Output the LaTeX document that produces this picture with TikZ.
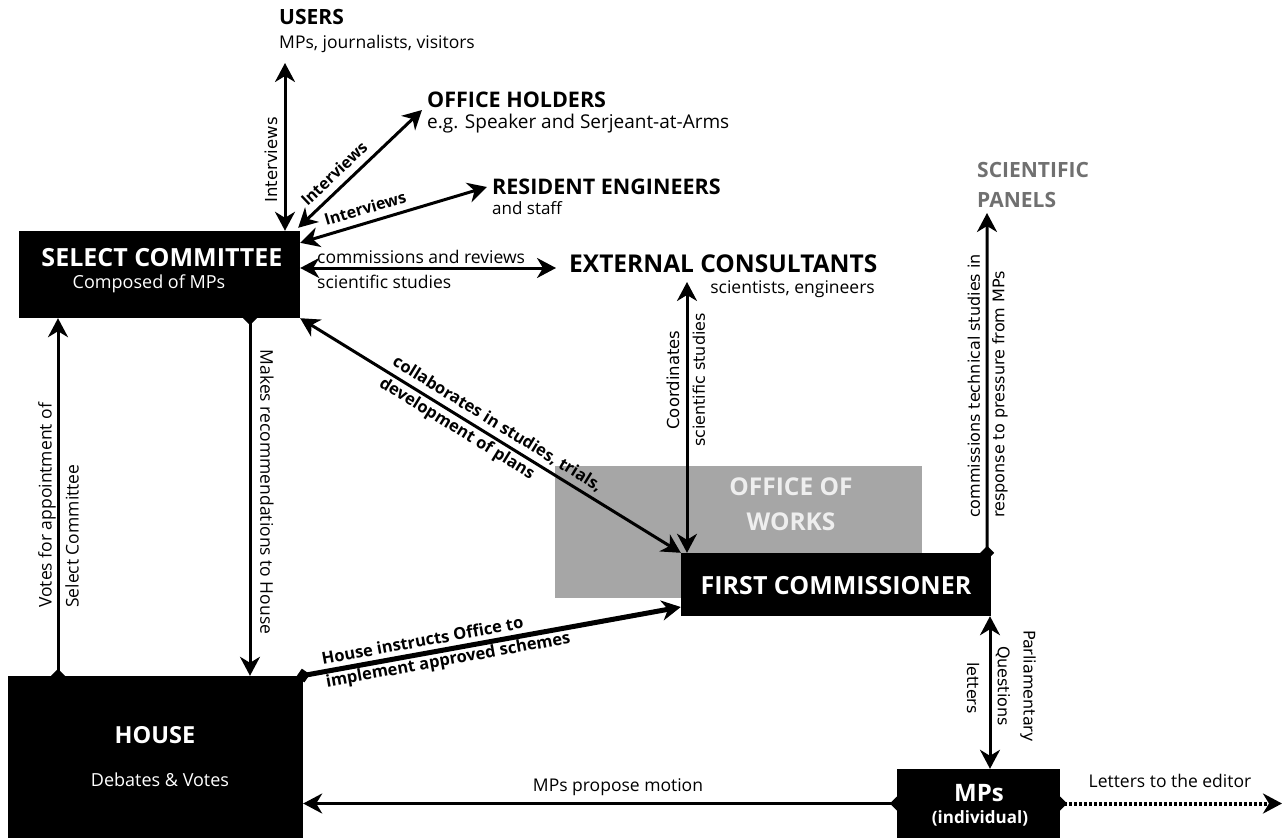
\documentclass[tikz,border=0pt]{standalone}
\usepackage{fontspec}
\setmainfont{Open Sans}
\newfontfamily\dejavu{DejaVu Sans}
\usetikzlibrary{arrows.meta,calc}
\newcommand{\myfs}[1]{\fontsize{#1}{\fpeval{1.25*#1}}\selectfont}
\definecolor{owgray}{HTML}{A6A6A6}
\definecolor{owtext}{HTML}{EEEEEE}
\definecolor{sptext}{HTML}{707070}
\begin{document}
\begin{tikzpicture}[x=1pt,y=-1pt,
  box/.style={fill=black, draw=none, inner sep=0pt},
  ttl/.style={inner sep=0pt, font=\bfseries\myfs{#1}},
  reg/.style={inner sep=0pt, font=\myfs{#1}},
  vdj/.style={inner sep=0pt, font=\dejavu\myfs{#1}},
  conn/.style={line width=3pt},
  both/.style={conn, {Stealth[length=19pt,width=20pt,inset=6pt]}-{Stealth[length=19pt,width=20pt,inset=6pt]}},
  one/.style={conn, {Turned Square[length=14pt,width=14pt]}-{Stealth[length=19pt,width=20pt,inset=6pt]}},
]
\useasboundingbox (0,0) rectangle (1283,838);

% boxes
\node[fill=owgray, inner sep=0pt, minimum width=367pt, minimum height=132pt] (ow) at (738.5,532) {};
\node[box, minimum width=281pt, minimum height=87pt] (sc) at (159.5,274.5) {};
\node[box, minimum width=295pt, minimum height=162pt] (house) at (155.5,757) {};
\node[box, minimum width=310pt, minimum height=63pt] (fc) at (836,584.5) {};
\node[box, minimum width=163pt, minimum height=69pt] (mps) at (978.5,803.5) {};

% box texts
\node[ttl=25, white] (sct) at (162,258) {SELECT COMMITTEE};
\node[reg=18, white] (scs) at (149,284) {Composed of MPs};
\node[ttl=23.5, white] (ht) at (155,735) {HOUSE};
\node[reg=18, white] (hs) at (160,780) {Debates \& Votes};
\node[ttl=25, white] (fct) at (836,586) {FIRST COMMISSIONER};
\node[ttl=24.5, owtext] (owt1) at (791,487) {OFFICE OF};
\node[ttl=24.5, owtext] (owt2) at (791,522) {WORKS};
\node[ttl=24, white] (mpt) at (979,793) {MPs};
\node[ttl=17, white] (mps2) at (980,818) {(individual)};

% outer titles
\node[ttl=21, anchor=west] (users) at (279,17) {USERS};
\node[reg=17.5, anchor=west] (usub) at (279,44) {MPs, journalists, visitors};
\node[ttl=21.5, anchor=west] (oh) at (427,100) {OFFICE HOLDERS};
\node[reg=19, anchor=west] (ohs) at (427,124) {e.g. Speaker and Serjeant-at-Arms};
\node[ttl=21.5, anchor=west] (re) at (492,187) {RESIDENT ENGINEERS};
\node[reg=17, anchor=west] (res) at (492,208) {and staff};
\node[ttl=24.5, anchor=west] (ec) at (569,264) {EXTERNAL CONSULTANTS};
\node[reg=17.5, anchor=east] (ecs) at (875,289) {scientists, engineers};
\node[ttl=21, sptext, anchor=west] (sp1) at (977,170) {SCIENTIFIC};
\node[ttl=21, sptext, anchor=west] (sp2) at (977,200) {PANELS};

% coordinates for free ends and line positions
\coordinate (uend) at (285,63);
\coordinate (ohend) at (422,110);
\coordinate (reend) at (487,187);
\coordinate (ecend) at (556,268);
\coordinate (coend) at (687,282);
\coordinate (spend) at (987,213);
\coordinate (edend) at (1282,803.5);
\coordinate (vx) at (58,0);
\coordinate (mx) at (250,0);
\coordinate (px) at (990,0);

% connectors
\draw[both] (sc.north -| uend) -- (uend);
\node[vdj=16.5, rotate=90] (lint1) at (271,160) {Interviews};

\draw[both] ([xshift=-2pt,yshift=3pt]sc.north east) -- (ohend)
  node[pos=0.37, sloped, above=7pt, inner sep=0pt, font=\bfseries\myfs{16}] (lint2) {Interviews};

\draw[both] ([yshift=-12pt]sc.north east) -- (reend)
  node[pos=0.37, sloped, above=7pt, inner sep=0pt, font=\bfseries\myfs{16}] (lint3) {Interviews};

\draw[both] ([yshift=6.5pt]sc.east) -- (ecend);
\node[reg=17.5, anchor=west] (lcr1) at (317,257) {commissions and reviews};
\node[reg=17.5, anchor=west] (lcr2) at (317,282) {scientific studies};

\draw[both] (coend) -- (coend |- fc.north);
\node[vdj=16.5, rotate=90] (lco1) at (673,380) {Coordinates};
\node[vdj=16, rotate=90] (lco2) at (699,380) {scientific studies};

\draw[one] ([xshift=-4pt,yshift=-7pt]fc.north east) -- (spend);
\node[vdj=16, rotate=90, anchor=west] (lsp1) at (974,518) {commissions technical studies in};
\node[vdj=16, rotate=90, anchor=west] (lsp2) at (1000,518) {response to pressure from MPs};

\draw[both] (sc.south east) -- (fc.north west)
  node[pos=0.5, sloped, inner sep=0pt, align=left, font=\bfseries\fontsize{16.5}{25}\selectfont] (lcol) {collaborates in studies, trials,\\development of plans};

\draw[one] ([yshift=-7pt]house.north -| vx) -- (sc.south -| vx);
\node[reg=17.5, rotate=90, anchor=west] (lv1) at (47,608) {Votes for appointment of};
\node[reg=17.5, rotate=90, anchor=west] (lv2) at (72,608) {Select Committee};

\draw[one] ([yshift=7pt]sc.south -| mx) -- (house.north -| mx);
\node[reg=17.5, rotate=-90] (lmk) at (267,492) {Makes recommendations to House};

\draw[conn, line width=5pt, {Turned Square[length=14pt,width=14pt]}-{Stealth[length=19pt,width=20pt,inset=6pt]}]
  ([shift={(-7pt,-1pt)}]house.north east) -- ([yshift=-22.5pt]fc.west)
  node[pos=0.39, sloped, inner sep=0pt, align=left, font=\bfseries\fontsize{16.5}{23}\selectfont] (lhi) {House instructs Office to\\implement approved schemes};

\draw[both] (fc.south -| px) -- (mps.north -| px);
\node[vdj=16, rotate=-90] (lpq1) at (1028,686) {Parliamentary};
\node[vdj=16, rotate=-90] (lpq2) at (1003,686) {Questions};
\node[vdj=16, rotate=-90] (lpq3) at (973,688) {letters};

\draw[one] ([xshift=7pt]mps.west) -- (house.east |- mps.west);
\node[reg=17.5] (lmp) at (618,787) {MPs propose motion};

\draw[line width=4pt, dash pattern=on 3pt off 2pt, {Turned Square[length=14pt,width=14pt]}-{Stealth[length=19pt,width=20pt,inset=6pt]}]
  ([xshift=-7pt]mps.east) -- (edend);
\node[reg=17.5] (led) at (1170,781) {Letters to the editor};
\end{tikzpicture}
\end{document}
